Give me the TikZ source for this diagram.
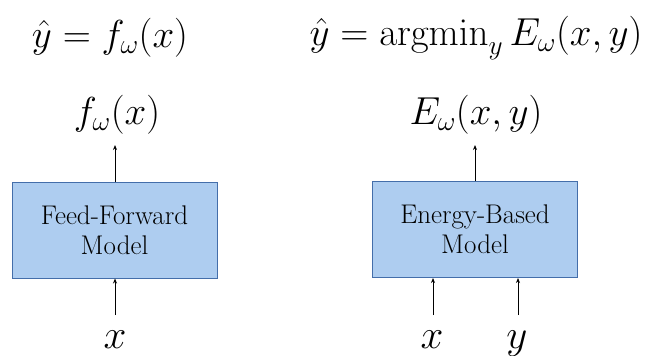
\RequirePackage{fix-cm}
\documentclass[tikz,border=0pt]{standalone}
\usepackage{amsmath}
\usetikzlibrary{arrows.meta}
\begin{document}
\begin{tikzpicture}[x=1pt,y=-1pt,
  model/.style={draw=boxedge,fill=boxfill,line width=1pt,minimum width=205pt,minimum height=96pt,inner sep=0pt,align=center,font=\fontsize{27}{30}\selectfont},
  lbl/.style={inner sep=0pt,font=\fontsize{39}{46}\selectfont},
  bigl/.style={inner sep=0pt,font=\fontsize{41}{48}\selectfont},
  arr/.style={-{Stealth[length=5pt,width=4pt]},line width=1pt}]
\definecolor{boxfill}{RGB}{174,205,240}
\definecolor{boxedge}{RGB}{68,110,170}
\useasboundingbox (0,0) rectangle (648,356);
\node[model] (ff) at (114.5,230) {Feed-Forward\\Model};
\node[model] (eb) at (475,229.5) {Energy-Based\\Model};
\node[lbl] (fo) at (117,115) {$f_\omega(x)$};
\node[lbl] (eo) at (476,115) {$E_\omega(x,y)$};
\node[lbl] (ft) at (110,38) {$\hat{y}=f_\omega(x)$};
\node[lbl] (et) at (476,38) {$\hat{y}=\operatorname{argmin}_y E_\omega(x,y)$};
\node[bigl,anchor=base] (fx) at (115,348) {$x$};
\node[bigl,anchor=base] (ex) at (432,348) {$x$};
\node[bigl,anchor=base] (ey) at (517,348) {$y$};
\coordinate (ffo) at (115,145);
\coordinate (ebo) at (475,145);
\coordinate (ffi) at (115,315);
\coordinate (exi) at (433,315);
\coordinate (eyi) at (518,315);
\draw[arr] (ff.north -| ffo) -- (ffo);
\draw[arr] (eb.north -| ebo) -- (ebo);
\draw[arr] (ffi) -- (ffi |- ff.south);
\draw[arr] (exi) -- (exi |- eb.south);
\draw[arr] (eyi) -- (eyi |- eb.south);
\end{tikzpicture}
\end{document}
